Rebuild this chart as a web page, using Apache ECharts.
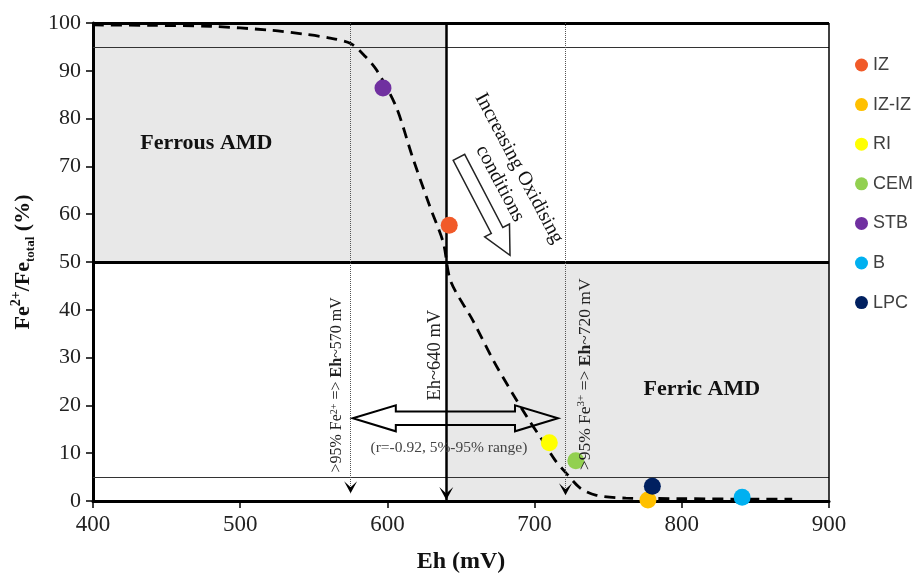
<!DOCTYPE html>
<html><head><meta charset="utf-8">
<script src="https://cdn.jsdelivr.net/npm/echarts/dist/echarts.min.js"></script>
<style>html,body{margin:0;padding:0;background:#fff}#c{width:915px;height:573px}</style>
</head><body><div id="c"></div>
<script>
// ---------- data ----------
const xMin = 400, xMax = 900, xStep = 100;
const yMin = 0, yMax = 100, yStep = 10;
// fitted dashed curve (Eh, Fe2+/Fe_total %)
const curveEh = [400, 440, 480, 520, 545, 560, 575, 585, 593, 606, 617, 629, 638, 643, 658, 672, 685, 695, 704, 714, 721, 731, 742, 762, 800, 840, 875];
const curveFe = [99.6, 99.5, 99.3, 98.5, 97.6, 96.9, 95.7, 93.0, 90.0, 82.4, 72.0, 61.5, 54.0, 46.0, 37.8, 29.4, 22.5, 17.5, 13.3, 8.5, 6.0, 2.7, 1.2, 0.6, 0.5, 0.4, 0.4];
// sample points
const sampleNames = ['IZ', 'IZ-IZ', 'RI', 'CEM', 'STB', 'B', 'LPC'];
const sampleEh = [642, 777, 710, 728, 597, 841, 780];
const sampleFe = [57.7, 0.2, 12.2, 8.4, 86.4, 0.8, 3.1];
const sampleColors = ['#F15A29', '#FFC000', '#FFFF00', '#92D050', '#7030A0', '#00B0F0', '#002060'];
// regions and thresholds
const ferrousRegion = [[400, 50], [640, 100]];
const ferricRegion = [[640, 0], [900, 50]];
const thinFe = [95, 5];
const midFe = 50;
const ehFerrous = 575, ehMid = 640, ehFerric = 721;
const dottedEnd = 1.6;
// annotation texts
const txtFerrous = 'Ferrous AMD', txtFerric = 'Ferric AMD';
const txtOx1 = 'Increasing Oxidising', txtOx2 = 'conditions';
const txtRange = '(r=-0.92, 5%-95% range)';

const serif = "'Liberation Serif','Times New Roman',serif";
const chart = echarts.init(document.getElementById('c'));

const frameLines = [
  [[xMin, yMax], [xMax, yMax], 3, 'solid', '#000'],
  [[xMin, midFe], [xMax, midFe], 3, 'solid', '#000'],
  [[xMin, thinFe[0]], [xMax, thinFe[0]], 1, 'solid', '#333'],
  [[xMin, thinFe[1]], [xMax, thinFe[1]], 1, 'solid', '#333'],
  [[xMax, yMin], [xMax, yMax], 1.5, 'solid', '#000'],
  [[ehMid, yMax], [ehMid, yMin], 2.5, 'solid', '#000'],
  [[ehFerrous, yMax], [ehFerrous, dottedEnd], 1, 'dotted', '#555'],
  [[ehFerric, yMax], [ehFerric, dottedEnd], 1, 'dotted', '#555']
];

const series = [
  {
    type: 'line', name: 'regions', data: [], z: 1, silent: true,
    markArea: {
      silent: true,
      itemStyle: { color: '#E8E8E8' },
      data: [
        [{ coord: ferrousRegion[0] }, { coord: ferrousRegion[1] }],
        [{ coord: ferricRegion[0] }, { coord: ferricRegion[1] }]
      ]
    }
  },
  {
    type: 'line', name: 'frame', data: [], z: 3, silent: true,
    markLine: {
      silent: true, symbol: ['none', 'none'], label: { show: false },
      data: frameLines.map(f => [
        { coord: f[0], lineStyle: { width: f[2], type: f[3], color: f[4] } },
        { coord: f[1] }
      ])
    }
  },
  {
    type: 'line', name: 'curve', z: 4, smooth: 0.3, symbol: 'none', silent: true,
    lineStyle: { color: '#000', width: 2.8, type: [11, 7] },
    data: curveEh.map((x, i) => [x, curveFe[i]])
  }
];
sampleNames.forEach((n, i) => {
  series.push({
    type: 'scatter', name: n, z: 6, symbolSize: 17,
    itemStyle: { color: sampleColors[i], opacity: 1 },
    data: [[sampleEh[i], sampleFe[i]]]
  });
});

chart.setOption({
  animation: false,
  grid: { left: 93, right: 86, top: 23, bottom: 72, containLabel: false, outerBoundsMode: 'none' },
  legend: {
    orient: 'vertical', left: 855, top: 56, itemGap: 21.6, padding: 0,
    itemWidth: 13, itemHeight: 13, itemTextGap: 5, icon: 'circle',
    textStyle: { fontFamily: "'Liberation Sans','Open Sans',sans-serif", fontSize: 18, color: '#404040', lineHeight: 18 },
    data: sampleNames
  },
  xAxis: {
    type: 'value', min: xMin, max: xMax, interval: xStep, z: 3,
    name: 'Eh (mV)', nameLocation: 'middle', nameGap: 49,
    nameTextStyle: { fontFamily: serif, fontWeight: 'bold', fontSize: 24, color: '#111' },
    axisLine: { show: true, lineStyle: { color: '#000', width: 3 } },
    axisTick: { show: true, length: 7, lineStyle: { color: '#000', width: 1.5 } },
    axisLabel: { fontFamily: serif, fontSize: 23, color: '#222', margin: 12 },
    splitLine: { show: false }
  },
  yAxis: {
    type: 'value', min: yMin, max: yMax, interval: yStep, z: 3,
    name: '{b|Fe}{sup|2+}{b|/Fe}{sub|total}{b| (%)}', nameLocation: 'middle', nameGap: 56, nameRotate: 90,
    nameTextStyle: {
      fontFamily: serif, fontWeight: 'bold', fontSize: 22, color: '#111',
      rich: {
        b: { fontFamily: serif, fontWeight: 'bold', fontSize: 22, color: '#111', lineHeight: 28 },
        sup: { fontFamily: serif, fontWeight: 'bold', fontSize: 14, color: '#111', verticalAlign: 'top', lineHeight: 20 },
        sub: { fontFamily: serif, fontWeight: 'bold', fontSize: 13, color: '#111', verticalAlign: 'bottom', lineHeight: 16 }
      }
    },
    axisLine: { show: true, lineStyle: { color: '#000', width: 3 } },
    axisTick: { show: true, length: 7, lineStyle: { color: '#000', width: 1.5 } },
    axisLabel: { fontFamily: serif, fontSize: 22, color: '#222', margin: 12 },
    splitLine: { show: false }
  },
  series: series
});

// ---------- annotations (positions in data coordinates) ----------
const P = (x, y) => chart.convertToPixel({ gridIndex: 0 }, [x, y]);
const G = [];
function text(x, y, str, size, opts) {
  const p = P(x, y);
  G.push(Object.assign({
    type: 'text', x: p[0], y: p[1], z: 20, silent: true,
    style: Object.assign({ text: str, fontFamily: serif, fontSize: size, fill: '#111', align: 'center', verticalAlign: 'middle' }, opts && opts.style)
  }, opts && opts.el));
}
text(477, 74.9, txtFerrous, 22, { style: { fontWeight: 'bold' } });
text(813.6, 23.3, txtFerric, 22, { style: { fontWeight: 'bold' } });
text(689.4, 69.6, txtOx1, 20, { el: { rotation: -62 * Math.PI / 180 } });
text(676.5, 66.4, txtOx2, 20, { el: { rotation: -62 * Math.PI / 180 } });
text(641.8, 11.0, txtRange, 15.5, { style: { fill: '#444' } });

function vtext(x, y, parts, size) {
  const p = P(x, y);
  const rich = {
    a: { fontFamily: serif, fontSize: size, color: '#222' },
    s: { fontFamily: serif, fontSize: Math.round(size * 0.62), color: '#222', verticalAlign: 'top', lineHeight: size * 0.9 },
    b: { fontFamily: serif, fontSize: size, color: '#111', fontWeight: 'bold' }
  };
  G.push({
    type: 'text', x: p[0], y: p[1], z: 20, silent: true, rotation: Math.PI / 2,
    style: { text: parts, rich: rich, fontFamily: serif, fontSize: size, fill: '#222', align: 'center', verticalAlign: 'middle' }
  });
}
vtext(565.7, 24.3, '{a|>95% Fe}{s|2+}{a| => }{b|Eh}{a|~570 mV}', 16);
vtext(632.2, 30.5, '{a|Eh~640 mV}', 18.5);
vtext(734.3, 26.5, '{a|>95% Fe}{s|3+}{a| => }{b|Eh}{a|~720 mV}', 17.5);

// arrowheads at bottom of vertical lines
function headDown(x, yTip, w, h) {
  const t = P(x, yTip);
  G.push({
    type: 'polygon', z: 19, silent: true,
    shape: { points: [[t[0], t[1]], [t[0] - w / 2, t[1] - h], [t[0], t[1] - h * 0.5], [t[0] + w / 2, t[1] - h]] },
    style: { fill: '#000' }
  });
}
headDown(ehFerrous, 1.6, 13, 12);
headDown(ehMid, 0.2, 14, 13);
headDown(ehFerric, 1.2, 13, 12);

// hollow double arrow
(function () {
  const l = P(576.5, 17.3), r = P(715.9, 17.3);
  const y = l[1], hl = 43, hh = 13, sh = 6.7;
  G.push({
    type: 'polygon', z: 18, silent: true,
    shape: { points: [[l[0], y], [l[0] + hl, y - hh], [l[0] + hl, y - sh], [r[0] - hl, y - sh], [r[0] - hl, y - hh], [r[0], y],
      [r[0] - hl, y + hh], [r[0] - hl, y + sh], [l[0] + hl, y + sh], [l[0] + hl, y + hh]] },
    style: { fill: 'rgba(0,0,0,0)', stroke: '#000', lineWidth: 2 }
  });
})();

// hollow slanted arrow "increasing oxidising"
(function () {
  const a = P(648.6, 71.9), b = P(683.3, 51.4);
  const dx = b[0] - a[0], dy = b[1] - a[1];
  const L = Math.sqrt(dx * dx + dy * dy), ang = -Math.atan2(dy, dx);
  const hl = 28, hh = 14, sh = 6.5;
  G.push({
    type: 'polygon', z: 18, silent: true, x: a[0], y: a[1], rotation: ang,
    shape: { points: [[0, -sh], [L - hl, -sh], [L - hl, -hh], [L, 0], [L - hl, hh], [L - hl, sh], [0, sh]] },
    style: { fill: '#fff', stroke: '#222', lineWidth: 1.5 }
  });
})();

chart.setOption({ graphic: { elements: G } });
</script>
</body></html>
